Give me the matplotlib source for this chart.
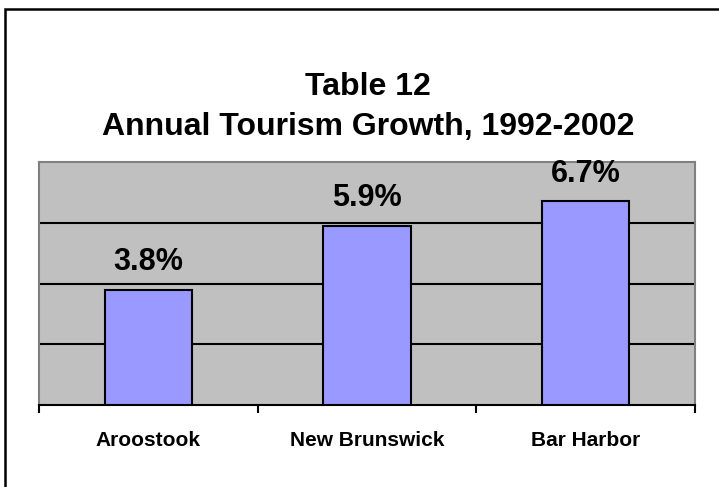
import matplotlib.pyplot as plt
from matplotlib.patches import Rectangle

regions = ["Aroostook", "New Brunswick", "Bar Harbor"]
growth = [3.8, 5.9, 6.7]
labels = ["3.8%", "5.9%", "6.7%"]

plt.rcParams['font.family'] = ['Liberation Sans', 'DejaVu Sans']

fig = plt.figure(figsize=(7.19, 4.87), dpi=100)
ax = fig.add_axes([39 / 719, 1 - 405 / 487, 656 / 719, 243 / 487])
ax.set_facecolor("#c0c0c0")

x = range(len(regions))
bars = ax.bar(x, growth, width=0.4, color="#9999ff", edgecolor="black", linewidth=1.5, zorder=3)

for b, lab in zip(bars, labels):
    ax.annotate(lab, (b.get_x() + b.get_width() / 2, b.get_height()),
                xytext=(0, 20), textcoords="offset points",
                ha="center", va="center", fontsize=22, fontweight="bold")

ax.set_xlim(-0.5, 2.5)
ax.set_ylim(0, 8)
ax.set_yticks([2, 4, 6])
ax.yaxis.grid(True, color="black", linewidth=1.5, zorder=1)
ax.tick_params(axis="y", left=False, labelleft=False)

ax.set_xticks([-0.5, 0.5, 1.5, 2.5])
ax.set_xticklabels([])
ax.set_xticks(list(x), minor=True)
ax.set_xticklabels(regions, minor=True, fontsize=15, fontweight="bold")
ax.tick_params(axis="x", which="major", length=6, width=1.5, direction="out")
ax.tick_params(axis="x", which="minor", length=0, pad=19)

for side in ["left", "top", "right"]:
    ax.spines[side].set_color("#808080")
    ax.spines[side].set_linewidth(1.5)
ax.spines["bottom"].set_color("black")
ax.spines["bottom"].set_linewidth(1.5)

fig.text(368 / 719, 1 - 87 / 487, "Table 12", ha="center", va="center",
         fontsize=23, fontweight="bold")
fig.text(368 / 719, 1 - 127 / 487, "Annual Tourism Growth, 1992-2002", ha="center", va="center",
         fontsize=23, fontweight="bold")

# outer frame around the chart
fig.patches.append(Rectangle((5 / 719, -0.05), 1.0, 1 - 9 / 487 + 0.05, transform=fig.transFigure,
                             fill=False, edgecolor="black", linewidth=1.8))

fig.savefig("out.png", dpi=100)
